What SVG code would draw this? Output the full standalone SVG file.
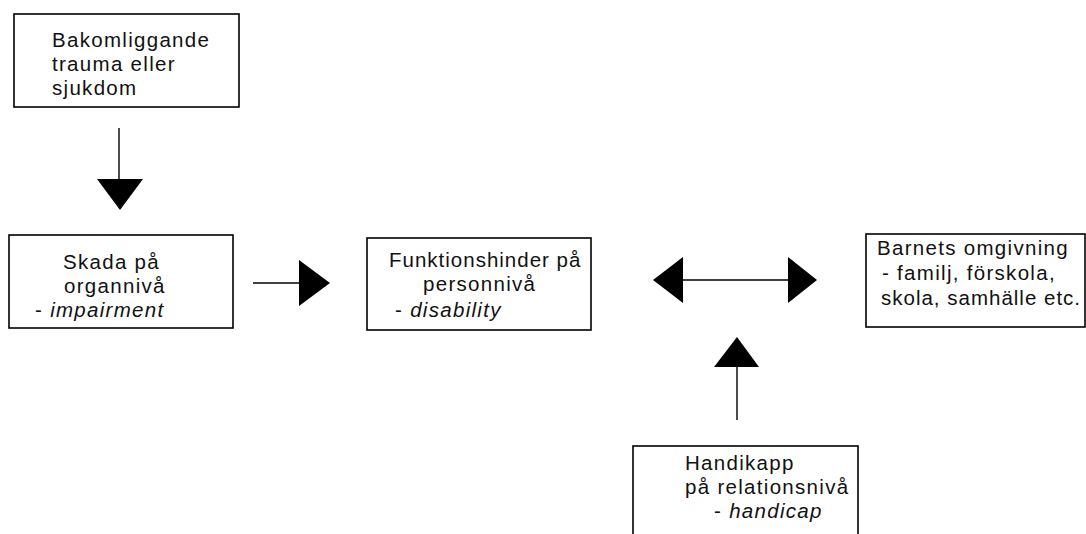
<svg xmlns="http://www.w3.org/2000/svg" width="1086" height="534" viewBox="0 0 1086 534">
<style>
.box{fill:#fff;stroke:#000;stroke-width:1.6}
.t{font-family:"Liberation Sans",Arial,sans-serif;font-size:20.5px;letter-spacing:1.3px;fill:#111}
.n{letter-spacing:1px}
.i{font-style:italic}
.ln{stroke:#000;stroke-width:1.4;fill:none}
.hd{fill:#000;stroke:none}
</style>
<rect width="1086" height="534" fill="#fff"/>
<g id="node-trauma">
<rect class="box" x="14" y="14" width="225" height="93"/>
<text class="t" x="52" y="47">Bakomliggande</text>
<text class="t" x="52" y="70.8">trauma eller</text>
<text class="t" x="52" y="94.6">sjukdom</text>
</g>
<g id="node-skada">
<rect class="box" x="9" y="235" width="224" height="93"/>
<text class="t" x="63" y="269">Skada på</text>
<text class="t" x="64" y="293">organnivå</text>
<text class="t" x="35" y="317">- <tspan class="i">impairment</tspan></text>
</g>
<g id="node-funktion">
<rect class="box" x="367" y="238" width="224" height="92"/>
<text class="t n" x="389" y="267">Funktionshinder på</text>
<text class="t" x="423" y="290.6">personnivå</text>
<text class="t" x="395" y="317">- <tspan class="i">disability</tspan></text>
</g>
<g id="node-barnets">
<rect class="box" x="866" y="234" width="219" height="93"/>
<text class="t" x="877" y="255">Barnets omgivning</text>
<text class="t" x="882" y="280">- familj, förskola,</text>
<text class="t n" x="881" y="305">skola, samhälle etc.</text>
</g>
<g id="node-handikapp">
<rect class="box" x="633" y="446" width="225" height="100"/>
<text class="t" x="685" y="470">Handikapp</text>
<text class="t" x="685" y="493.6">på relationsnivå</text>
<text class="t" x="714" y="518">- <tspan class="i">handicap</tspan></text>
</g>
<g id="connectors">
<line class="ln" x1="119" y1="128" x2="119" y2="180"/>
<polygon class="hd" points="97,179 143,179 120,210"/>
<line class="ln" x1="253" y1="283" x2="300" y2="283"/>
<polygon class="hd" points="299,260 299,306 330,283"/>
<line class="ln" x1="682" y1="280" x2="789" y2="280"/>
<polygon class="hd" points="683,257 683,303 653,280"/>
<polygon class="hd" points="788,257 788,303 817,280"/>
<line class="ln" x1="737" y1="366" x2="737" y2="420"/>
<polygon class="hd" points="714,367 759,367 737,337"/>
</g>
</svg>
